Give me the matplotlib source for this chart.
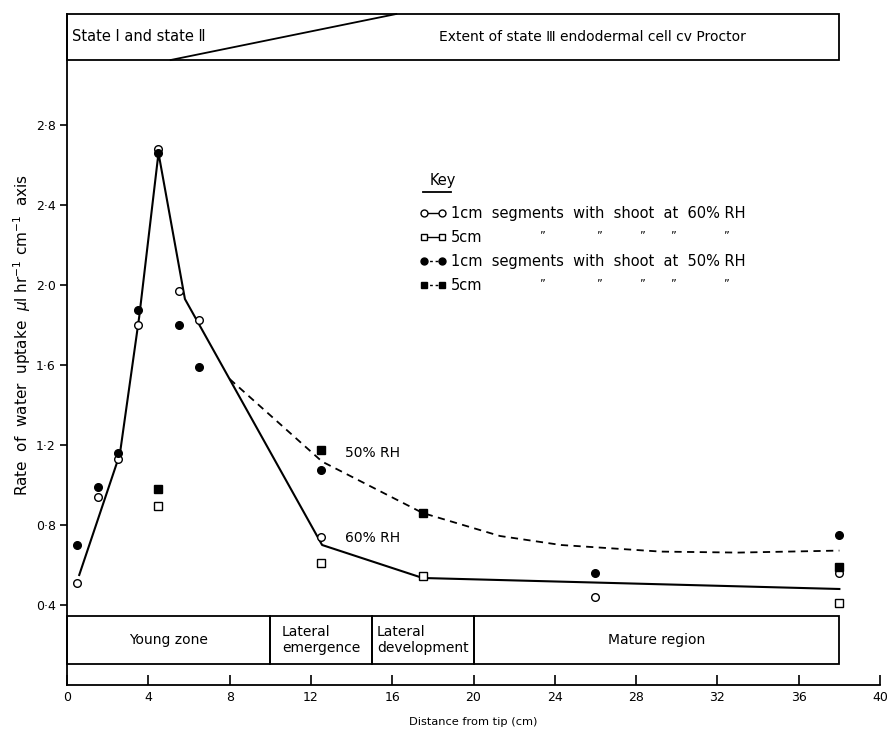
import matplotlib
matplotlib.use("Agg")
import matplotlib.pyplot as plt
from matplotlib.patches import Rectangle
from matplotlib.lines import Line2D

plt.rcParams['font.family'] = ['DejaVu Sans']
plt.rcParams['mathtext.fontset'] = 'dejavusans'

# ---- data ----
x_1cm = [0.5, 1.5, 2.5, 3.5, 4.5, 5.5, 6.5, 12.5, 26, 38]
y_1cm_60 = [0.51, 0.94, 1.13, 1.80, 2.68, 1.97, 1.825, 0.74, 0.44, 0.56]
y_1cm_50 = [0.70, 0.99, 1.16, 1.875, 2.66, 1.80, 1.59, 1.075, 0.56, 0.75]

x_5cm = [4.5, 12.5, 17.5, 38]
y_5cm_60 = [0.895, 0.61, 0.545, 0.41]
y_5cm_50 = [0.98, 1.175, 0.86, 0.59]

# hand-drawn fitted curves
fit60_x = [0.6, 2.6, 3.55, 4.5, 5.8, 12.55, 17.5, 38]
fit60_y = [0.55, 1.155, 1.84, 2.66, 1.93, 0.70, 0.535, 0.48]
fit50_x = [8.0, 12.55, 17.5, 21.3, 24.3, 29.2, 33, 38]
fit50_y = [1.53, 1.117, 0.86, 0.745, 0.70, 0.667, 0.662, 0.672]

zones = [(0, 10, "Young zone"), (10, 15, "Lateral\nemergence"),
         (15, 20, "Lateral\ndevelopment"), (20, 38, "Mature region")]

xticks = [0, 4, 8, 12, 16, 20, 24, 28, 32, 36, 40]
yticks = [0.4, 0.8, 1.2, 1.6, 2.0, 2.4, 2.8]

fig = plt.figure(figsize=(8.89, 7.33), dpi=100)
ax = fig.add_axes([0.0754, 0.0655, 0.9145, 0.9154])
ax.set_xlim(0, 40)
ax.set_ylim(0, 3.355)
for s in ('top', 'right'):
    ax.spines[s].set_visible(False)
for s in ('left', 'bottom'):
    ax.spines[s].set_linewidth(1.3)

FS = 10

# fitted lines
ax.plot(fit60_x, fit60_y, color='black', lw=1.5, ls='-')
ax.plot(fit50_x, fit50_y, color='black', lw=1.3, ls=(0, (4, 3)))

# points
ax.plot(x_1cm, y_1cm_60, ls='none', marker='o', ms=5.5, mfc='white', mec='black', mew=1.0, zorder=5)
ax.plot(x_1cm, y_1cm_50, ls='none', marker='o', ms=5.5, mfc='black', mec='black', zorder=5)
ax.plot(x_5cm, y_5cm_60, ls='none', marker='s', ms=5.5, mfc='white', mec='black', mew=1.0, zorder=5)
ax.plot(x_5cm, y_5cm_50, ls='none', marker='s', ms=5.5, mfc='black', mec='black', zorder=5)

ax.text(13.66, 1.16, "50% RH", fontsize=FS, va='center', ha='left')
ax.text(13.66, 0.733, "60% RH", fontsize=FS, va='center', ha='left')

# top banner
ax.add_patch(Rectangle((0, 3.125), 38, 0.23, fill=False, lw=1.3, ec='black', clip_on=False))
ax.plot([5.1, 16.2], [3.125, 3.355], color='black', lw=1.3, clip_on=False)
ax.text(0.25, 3.24, "State \u2160 and state \u2161", fontsize=10.5, va='center', ha='left')
ax.text(18.3, 3.24, "Extent of state \u2162 endodermal cell cv Proctor", fontsize=FS, va='center', ha='left')

# bottom zone box
for x0, x1, lab in zones:
    ax.add_patch(Rectangle((x0, 0.105), x1 - x0, 0.24, fill=False, lw=1.3, ec='black', clip_on=False))
    ax.text((x0 + x1) / 2, 0.225, lab, fontsize=FS, va='center', ha='center',
            multialignment='left', linespacing=1.25)

# key
KFS = 10.5
ax.text(17.85, 2.52, "Key", fontsize=KFS, va='center', ha='left')
ax.plot([17.5, 18.9], [2.465, 2.465], color='black', lw=1.3)
handles = [
    Line2D([], [], color='black', ls='-', lw=1.0, marker='o', ms=5, mfc='white', mec='black'),
    Line2D([], [], color='black', ls='-', lw=1.0, marker='s', ms=5, mfc='white', mec='black'),
    Line2D([], [], color='black', ls=(0, (2, 2)), lw=1.0, marker='o', ms=5, mfc='black', mec='black'),
    Line2D([], [], color='black', ls=(0, (2, 2)), lw=1.0, marker='s', ms=5, mfc='black', mec='black'),
]
labels = ["1cm  segments  with  shoot  at  60% RH", "5cm",
          "1cm  segments  with  shoot  at  50% RH", "5cm"]
leg = ax.legend(handles, labels, loc='upper left', bbox_to_anchor=(17.35, 2.395),
                bbox_transform=ax.transData, frameon=False, fontsize=KFS,
                numpoints=2, handlelength=1.8, handletextpad=0.35,
                labelspacing=0.62, borderpad=0, borderaxespad=0)

# ditto marks on the "5cm" rows
fig.canvas.draw()
inv = ax.transData.inverted()
ditto_x = [23.35, 26.15, 28.3, 29.8, 32.4]
for t in (leg.get_texts()[1], leg.get_texts()[3]):
    bb = t.get_window_extent()
    yd = inv.transform((0, bb.y1))[1]
    for xd in ditto_x:
        ax.text(xd, yd, "\u201d", fontsize=8, ha='center', va='top')

# ticks
ax.set_xticks(xticks)
ax.set_xticklabels([str(v) for v in xticks])
ax.set_yticks(yticks)
ax.set_yticklabels([f"{v:.1f}".replace('.', '\u00b7') for v in yticks])
ax.tick_params(axis='x', direction='in', length=7, width=1.2, pad=4, labelsize=9)
ax.tick_params(axis='y', direction='out', length=5, width=1.2, pad=3, labelsize=9)

ax.set_xlabel("Distance from tip (cm)", fontsize=8.2, labelpad=10)
ax.set_ylabel(r"Rate  of  water  uptake  $\mu$l hr$^{-1}$ cm$^{-1}$  axis", fontsize=11)
ax.yaxis.set_label_coords(-0.042, (685 - 335) / 671)

fig.savefig("out.png", dpi=100)
